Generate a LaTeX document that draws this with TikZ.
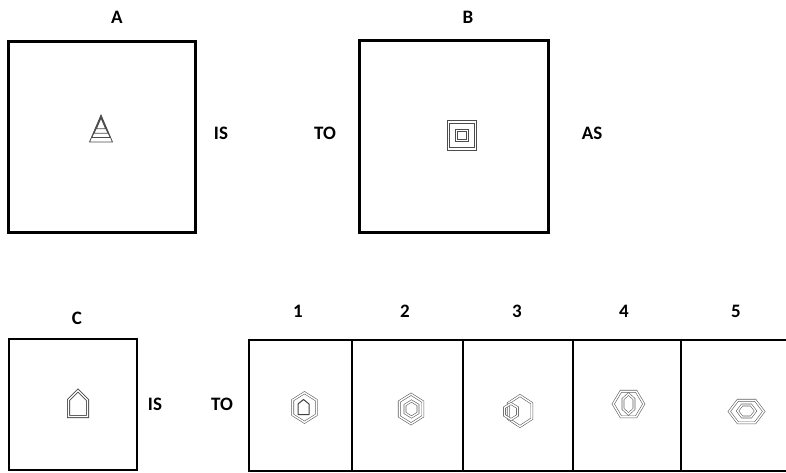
\documentclass[tikz,border=0pt]{standalone}
\usepackage{fontspec}
\setmainfont{Carlito}
\newcommand\hexV[5]{\draw[#5] (#1,#2-#4) -- (#1+#3,#2-#4/2) -- (#1+#3,#2+#4/2) -- (#1,#2+#4) -- (#1-#3,#2+#4/2) -- (#1-#3,#2-#4/2) -- cycle;}
\newcommand\hexH[5]{\draw[#5] (#1-#3,#2) -- (#1-#3/2,#2-#4) -- (#1+#3/2,#2-#4) -- (#1+#3,#2) -- (#1+#3/2,#2+#4) -- (#1-#3/2,#2+#4) -- cycle;}
\newcommand\sq[2]{\draw[#2] (462-#1,135.5-#1) -- (462+#1,135.5-#1) -- (462+#1,135.5+#1) -- (462-#1,135.5+#1) -- cycle;}
\begin{document}
\begin{tikzpicture}[x=1pt,y=-1pt,
  lbl/.style={font=\bfseries\fontsize{19}{19}\selectfont, inner sep=0pt},
  bigbox/.style={draw=black, line width=3pt},
  smallbox/.style={draw=black, line width=1.8pt},
  fig/.style={draw=gray!75!black, line width=0.6pt, double=white, double distance=1.4pt, line join=miter},
  thinfig/.style={draw=gray!60!black, line width=0.8pt},
  dark/.style={draw=black!75, line width=1pt, line join=round}]
\useasboundingbox (0,0) rectangle (786,473);
% frames
\draw[bigbox] (8,42) rectangle (195,232);
\draw[bigbox] (359,41) rectangle (548,232);
\draw[smallbox] (9,339) rectangle (137,470);
\draw[smallbox] (249,340) rectangle (800,471);
\foreach \x in {352,463,573,681} \draw[smallbox] (\x,340) -- (\x,471);
% labels
\node[lbl] (lA) at (117,17) {A};
\node[lbl] (lB) at (468,17) {B};
\node[lbl] (is1) at (221,133) {IS};
\node[lbl] (to1) at (325,133) {TO};
\node[lbl] (as1) at (592,133) {AS};
\node[lbl] (lC) at (77,318) {C};
\node[lbl] (is2) at (155,404) {IS};
\node[lbl] (to2) at (222,404) {TO};
\node[lbl] (l1) at (298,311) {1};
\node[lbl] (l2) at (405,311) {2};
\node[lbl] (l3) at (517,311) {3};
\node[lbl] (l4) at (624,311) {4};
\node[lbl] (l5) at (736,311) {5};
% A: nested triangles
\foreach \s in {1,0.8,0.6,0.4}
  \draw[thinfig] (101,120-5*\s) -- (101+11.5*\s,120+22*\s) -- (101-11.5*\s,120+22*\s) -- cycle;
% B: nested squares
\sq{14.6}{thinfig}
\sq{12.2}{thinfig}
\sq{6.4}{thinfig}
\sq{4.2}{thinfig}
% C: house
\draw[fig, draw=black!70, line width=0.8pt] (78,390.5) -- (87.5,400) -- (87.5,416.5) -- (68.5,416.5) -- (68.5,400) -- cycle;
% option 1
\hexV{304.5}{407.5}{11.8}{14.8}{fig}
\draw[dark] (303.5,399.5) -- (309,404) -- (309,414.5) -- (298,414.5) -- (298,404) -- cycle;
% option 2
\hexV{411}{409}{11.8}{14.8}{fig}
\hexV{411.5}{409}{6.5}{8}{fig}
% option 3
\hexV{520}{411}{11.8}{15.5}{fig}
\hexV{511}{411.5}{6.5}{8}{fig}
% option 4
\hexH{628.5}{404}{15.3}{12.8}{fig}
\hexV{628.5}{404}{5.5}{10}{fig}
% option 5
\hexH{746.5}{411.5}{17.3}{11.3}{fig}
\hexH{746.5}{411}{9}{6}{fig}
\end{tikzpicture}
\end{document}
